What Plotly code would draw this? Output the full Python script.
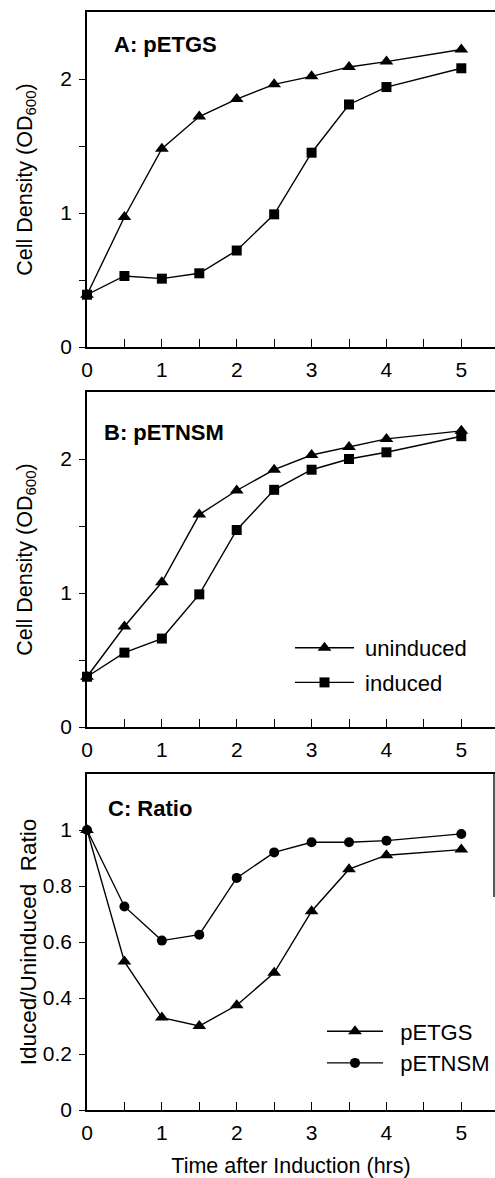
import plotly.graph_objects as go

# ---- data ----
hours = [0, 0.5, 1, 1.5, 2, 2.5, 3, 3.5, 4, 5]

a_uninduced = [0.39, 0.97, 1.48, 1.72, 1.85, 1.96, 2.02, 2.09, 2.13, 2.22]
a_induced = [0.39, 0.53, 0.51, 0.55, 0.72, 0.99, 1.45, 1.81, 1.94, 2.08]

b_uninduced = [0.375, 0.75, 1.08, 1.585, 1.765, 1.92, 2.03, 2.09, 2.15, 2.21]
b_induced = [0.375, 0.555, 0.66, 0.99, 1.47, 1.77, 1.92, 2.00, 2.05, 2.17]

c_petgs = [1.0, 0.53, 0.33, 0.30, 0.374, 0.49, 0.71, 0.86, 0.91, 0.93]
c_petnsm = [1.0, 0.727, 0.605, 0.626, 0.829, 0.92, 0.956, 0.956, 0.962, 0.986]

x_tickvals = [0, 0.5, 1, 1.5, 2, 2.5, 3, 3.5, 4, 4.5, 5]
x_ticktext = ["0", "", "1", "", "2", "", "3", "", "4", "", "5"]
od_tickvals = [0, 0.5, 1, 1.5, 2]
od_ticktext = ["0", "", "1", "", "2"]
ratio_tickvals = [0, 0.2, 0.4, 0.6, 0.8, 1.0]
ratio_ticktext = ["0", "0.2", "0.4", "0.6", "0.8", "1"]

# ---- layout geometry ----
W, H = 495, 1178
FONT = "Liberation Sans, Arial, Helvetica, sans-serif"


def ydom(top_px, bot_px):
    return [1 - bot_px / H, 1 - top_px / H]


xdom = [87 / W, 1.0]
dom_a = ydom(12, 347)
dom_b = ydom(392, 727)
dom_c = ydom(774, 1110)

fig = go.Figure()

line = dict(color="black", width=1.4)


def add(x, y, name, symbol, size, xa, ya, legend, showlegend, group):
    fig.add_trace(go.Scatter(
        x=x, y=y, name=name, mode="lines+markers",
        line=line,
        marker=dict(symbol=symbol, size=size, color="black"),
        xaxis=xa, yaxis=ya, legend=legend, showlegend=showlegend,
        legendgroup=group, cliponaxis=False,
    ))


add(hours, a_uninduced, "uninduced", "triangle-up", 12, "x", "y", "legend", False, "a1")
add(hours, a_induced, "induced", "square", 10, "x", "y", "legend", False, "a2")
add(hours, b_uninduced, "&nbsp;uninduced", "triangle-up", 12, "x2", "y2", "legend", True, "b1")
add(hours, b_induced, "&nbsp;induced", "square", 10, "x2", "y2", "legend", True, "b2")
add(hours, c_petgs, "&nbsp;&nbsp;pETGS", "triangle-up", 12, "x3", "y3", "legend2", True, "c1")
add(hours, c_petnsm, "&nbsp;&nbsp;pETNSM", "circle", 10, "x3", "y3", "legend2", True, "c2")

xcommon = dict(
    range=[0, 5.45], domain=xdom, showline=True, linecolor="black", linewidth=1.5,
    mirror=True, ticks="inside", ticklen=8, tickwidth=1.3, tickcolor="black",
    tickvals=x_tickvals, ticktext=x_ticktext, showgrid=False, zeroline=False,
    tickfont=dict(family=FONT, size=21, color="black"), ticklabelstandoff=3,
    automargin=False,
)
ycommon = dict(
    showline=True, linecolor="black", linewidth=1.5,
    ticks="outside", ticklen=6, tickwidth=1.3, tickcolor="black",
    showgrid=False, zeroline=False,
    tickfont=dict(family=FONT, size=21, color="black"), ticklabelstandoff=3,
    automargin=False,
)
title_font = dict(family=FONT, size=21.5, color="black")

fig.update_layout(
    width=W, height=H, template="none",
    margin=dict(l=0, r=0, t=0, b=0),
    paper_bgcolor="white", plot_bgcolor="white",
    font=dict(family=FONT, color="black"),
    xaxis=dict(**xcommon, anchor="y"),
    xaxis2=dict(**xcommon, anchor="y2"),
    xaxis3=dict(**xcommon, anchor="y3",
                title=dict(text="Time after Induction (hrs)", font=title_font, standoff=17)),
    yaxis=dict(**ycommon, domain=dom_a, range=[0, 2.5], anchor="x",
               tickvals=od_tickvals, ticktext=od_ticktext,
               title=dict(text="Cell Density (OD<sub>600</sub>)", font=title_font, standoff=22)),
    yaxis2=dict(**ycommon, domain=dom_b, range=[0, 2.5], anchor="x2",
                tickvals=od_tickvals, ticktext=od_ticktext,
                title=dict(text="Cell Density (OD<sub>600</sub>)", font=title_font, standoff=22)),
    yaxis3=dict(**ycommon, domain=dom_c, range=[0, 1.2], anchor="x3",
                tickvals=ratio_tickvals, ticktext=ratio_ticktext,
                title=dict(text="Iduced/Uninduced&nbsp; Ratio",
                           font=dict(family=FONT, size=22.5, color="black"), standoff=0)),
    legend=dict(x=290 / W, y=1 - 665.5 / H, xanchor="left", yanchor="middle",
                bgcolor="rgba(0,0,0,0)", itemwidth=59, tracegroupgap=3,
                traceorder="grouped",
                font=dict(family=FONT, size=22, color="black")),
    legend2=dict(x=322 / W, y=1 - 1047.5 / H, xanchor="left", yanchor="middle",
                 bgcolor="rgba(0,0,0,0)", itemwidth=56, tracegroupgap=0,
                 traceorder="grouped",
                 font=dict(family=FONT, size=22, color="black")),
)

# panel labels
for text, xpx, ypx in [("A: pETGS", 112, 45), ("B: pETNSM", 102, 432), ("C: Ratio", 106, 808)]:
    fig.add_annotation(text=f"<b>{text}</b>", x=xpx / W, y=1 - ypx / H,
                       xref="paper", yref="paper", xanchor="left", yanchor="middle",
                       showarrow=False, font=dict(family=FONT, size=22, color="black"))

# partial right border of panel C
fig.add_shape(type="line", xref="paper", yref="paper",
              x0=494 / W, x1=494 / W, y0=1 - 897 / H, y1=dom_c[1],
              line=dict(color="black", width=1.3))

fig.write_html(
    "out.html",
    config={"displayModeBar": False},
    post_script="document.body.style.margin='0';document.body.style.overflow='hidden';",
)
